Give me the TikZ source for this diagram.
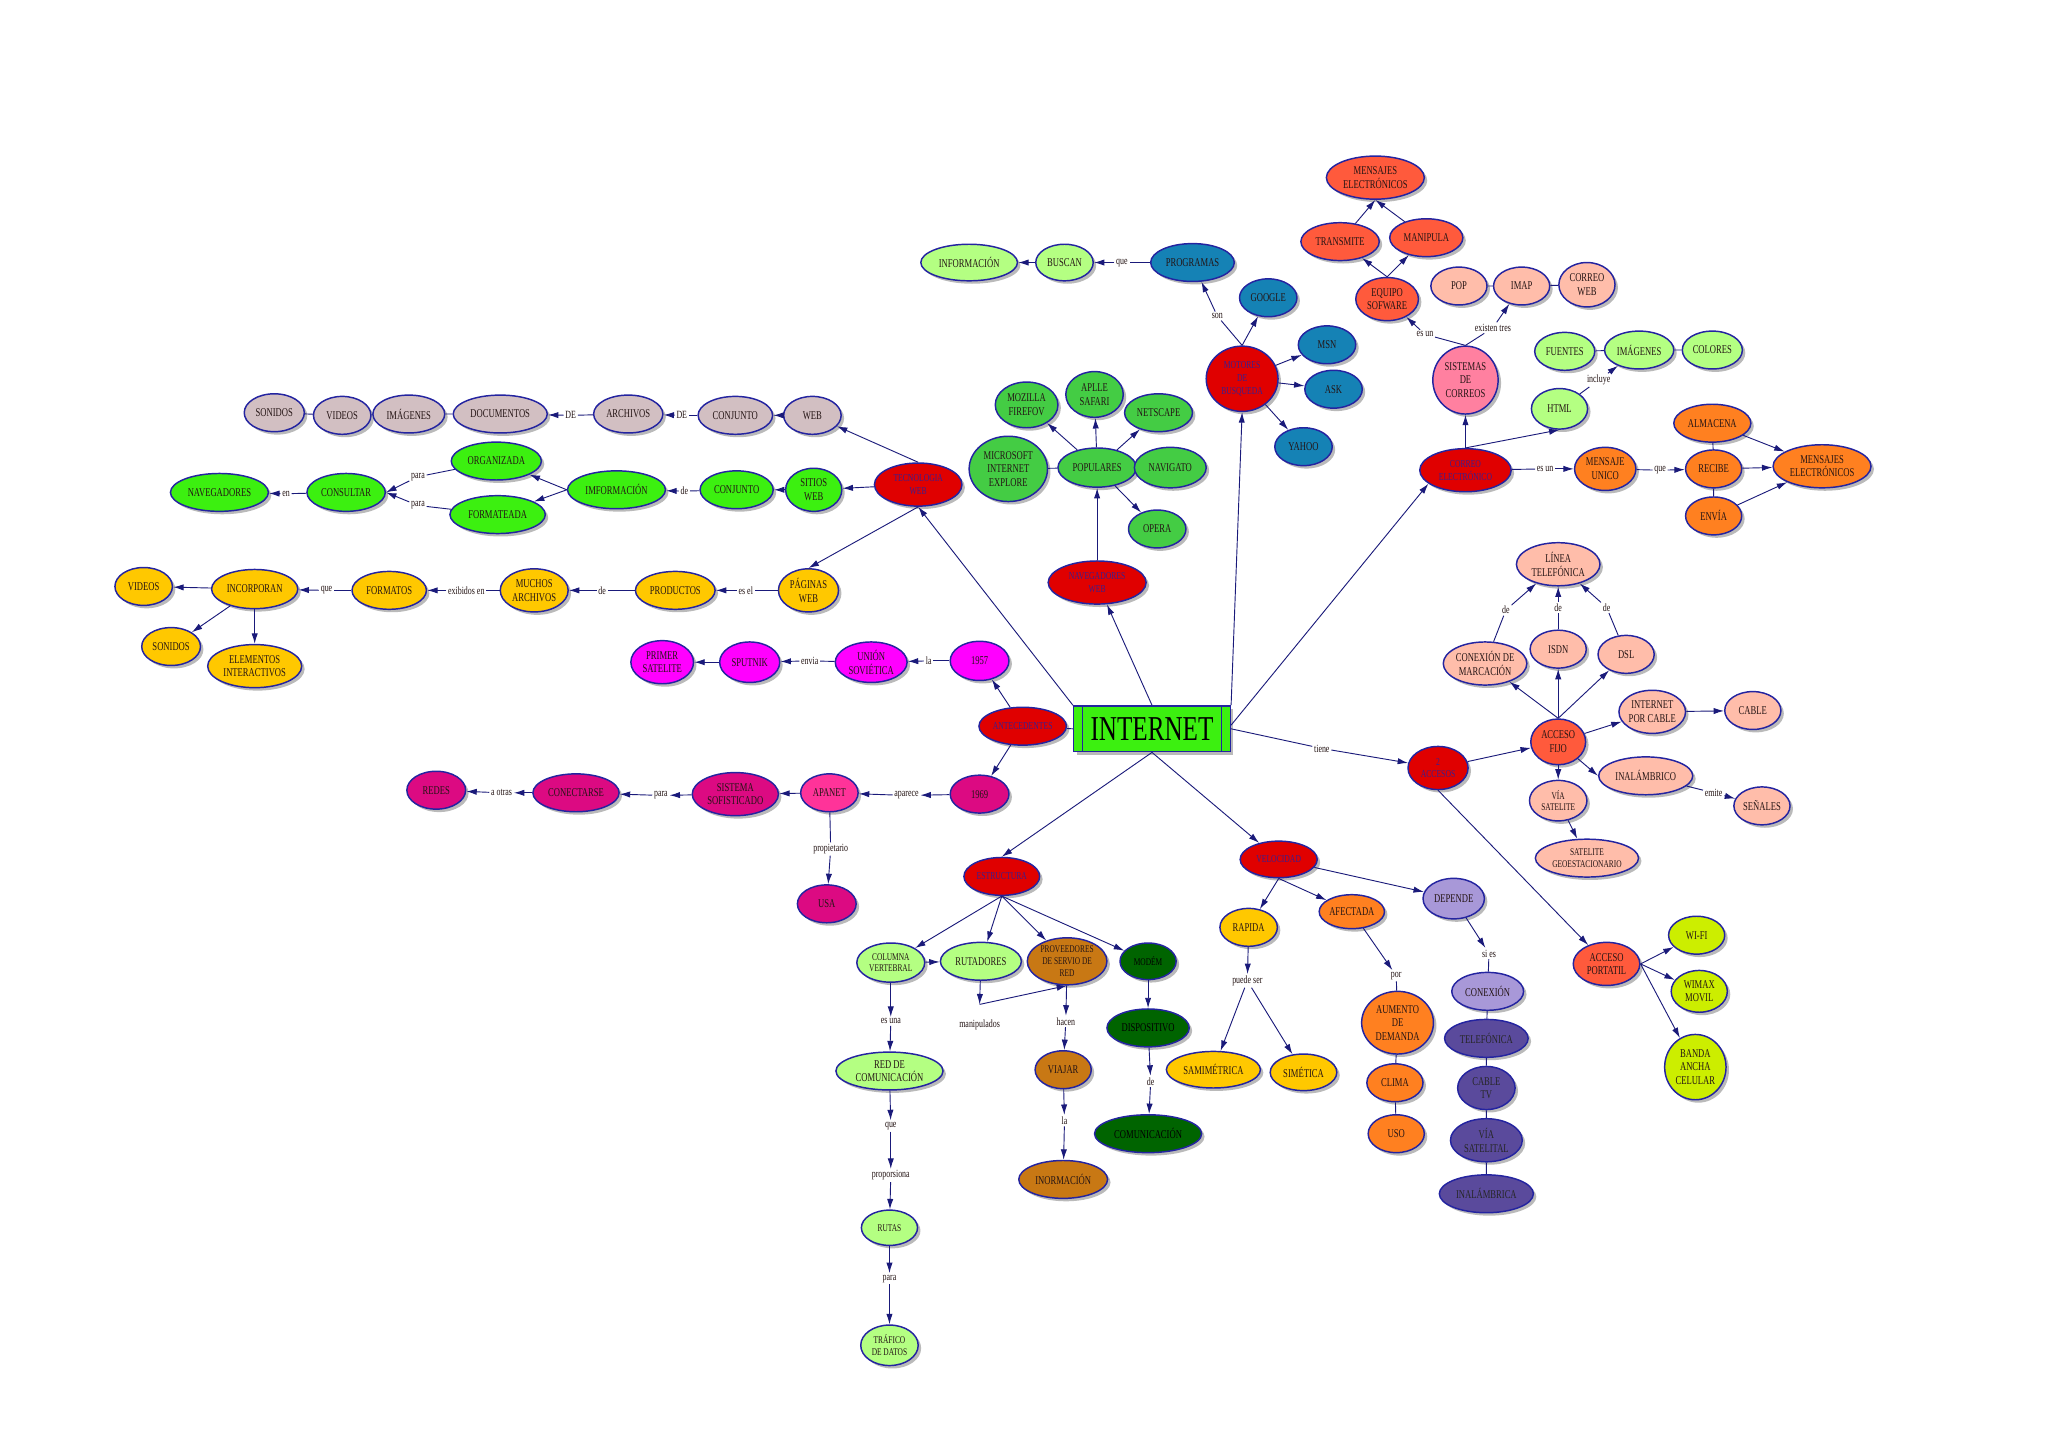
\documentclass[tikz,border=0pt]{standalone}
\usepackage{fontspec}
\setmainfont{Liberation Serif}[FakeStretch=0.72]
\usepackage{tikz}
\usepackage{xcolor}
\usetikzlibrary{arrows.meta,shapes.geometric,shadows}
\definecolor{Tinta}{HTML}{241414}
\definecolor{Marino}{HTML}{1A1A7A}
\definecolor{Borde}{HTML}{2424A0}
\definecolor{Indigo}{HTML}{3C1E8C}
\definecolor{Gris}{HTML}{D2BFC2}
\definecolor{Lima}{HTML}{3CF010}
\definecolor{Oro}{HTML}{FFC800}
\definecolor{Fucsia}{HTML}{FF00FF}
\definecolor{Frambuesa}{HTML}{DC0A82}
\definecolor{Rosa}{HTML}{FF3399}
\definecolor{Carmesi}{HTML}{E00000}
\definecolor{Hierba}{HTML}{44CC44}
\definecolor{Petroleo}{HTML}{1582B5}
\definecolor{Menta}{HTML}{B4FF82}
\definecolor{Tomate}{HTML}{FF5A3C}
\definecolor{Salmon}{HTML}{FFBDAA}
\definecolor{Chicle}{HTML}{FF80A0}
\definecolor{Naranja}{HTML}{FF8020}
\definecolor{Cafe}{HTML}{C87814}
\definecolor{Bosque}{HTML}{006400}
\definecolor{Lavanda}{HTML}{A898D8}
\definecolor{Pizarra}{HTML}{5A4A9C}
\definecolor{Pistacho}{HTML}{CCEE00}
\newcommand{\concepto}[7]{
  \node[concepto, #6, minimum width=#4*0.025cm, minimum height=#5*0.025cm] (#1) at (#2,#3) {#7};
}
\newcommand{\palabra}[4]{
  \node[rotulo] (#1) at (#2,#3) {#4};
}

\begin{document}
\begin{tikzpicture}[x=0.025cm, y=-0.025cm,
    concepto/.style={ellipse, draw=Borde, line width=0.8pt, inner sep=0pt, align=center,
      text=Tinta, font=\fontsize{6.5}{7.4}\selectfont,
      drop shadow={shadow xshift=1.6pt, shadow yshift=-1.6pt, fill=black!45, opacity=0.6}},
    rotulo/.style={fill=white, inner sep=0.8pt, text=Tinta, font=\fontsize{6}{7}\selectfont},
    link/.style={draw=Marino, line width=0.5pt},
    arr/.style={link, -{Latex[length=2mm, width=1.2mm]}},
    chico/.style={font=\fontsize{5.6}{6.4}\selectfont},
    principal/.style={fill=Carmesi, text=Indigo, font=\fontsize{5.8}{7}\selectfont},
    gris/.style={fill=Gris}, lima/.style={fill=Lima}, oro/.style={fill=Oro},
    fucsia/.style={fill=Fucsia}, frambuesa/.style={fill=Frambuesa}, rosa/.style={fill=Rosa},
    hierba/.style={fill=Hierba}, petroleo/.style={fill=Petroleo}, menta/.style={fill=Menta},
    tomate/.style={fill=Tomate}, salmon/.style={fill=Salmon}, chicle/.style={fill=Chicle},
    naranja/.style={fill=Naranja}, cafe/.style={fill=Cafe}, bosque/.style={fill=Bosque, text=black},
    lavanda/.style={fill=Lavanda}, pizarra/.style={fill=Pizarra, text=black!85},
    pistacho/.style={fill=Pistacho}]
  \useasboundingbox (0,0) rectangle (1568,1109);

  % centro
  \node[rectangle, draw=Borde, line width=0.8pt, fill=Lima, minimum width=120*0.025cm,
    minimum height=35*0.025cm, inner sep=0pt, font=\fontsize{19}{20}\selectfont,
    drop shadow={shadow xshift=1.6pt, shadow yshift=-1.6pt, fill=black!45, opacity=0.6}]
    (internet) at (882,558) {INTERNET};
  \draw[Borde, line width=0.6pt] ([xshift=0.18cm]internet.north west) -- ([xshift=0.18cm]internet.south west);
  \draw[Borde, line width=0.6pt] ([xshift=-0.18cm]internet.north east) -- ([xshift=-0.18cm]internet.south east);

  % tecnologia web
  \concepto{tecweb}{703}{371}{67}{33}{principal}{TECNOLOGIA\\WEB}
  \concepto{gsonidos}{210}{316}{46}{29}{gris}{SONIDOS}
  \concepto{gvideos}{262}{318}{44}{29}{gris}{VIDEOS}
  \concepto{gimagenes}{313}{317}{55}{29}{gris}{IMÁGENES}
  \concepto{gdocs}{383}{317}{72}{29}{gris}{DOCUMENTOS}
  \palabra{lde1}{437}{318}{DE}
  \concepto{garchivos}{481}{317}{53}{29}{gris}{ARCHIVOS}
  \palabra{lde2}{522}{318}{DE}
  \concepto{gconjunto}{563}{318}{57}{29}{gris}{CONJUNTO}
  \concepto{gweb}{622}{318}{44}{29}{gris}{WEB}
  \concepto{organizada}{380}{353}{69}{29}{lima}{ORGANIZADA}
  \concepto{formateada}{381}{394}{73}{29}{lima}{FORMATEADA}
  \concepto{navegadores}{168}{377}{75}{29}{lima}{NAVEGADORES}
  \palabra{len}{219}{378}{en}
  \concepto{consultar}{265}{377}{60}{29}{lima}{CONSULTAR}
  \palabra{lpara1}{320}{365}{para}
  \palabra{lpara2}{320}{387}{para}
  \concepto{imformacion}{472}{375}{75}{29}{lima}{IMFORMACIÓN}
  \palabra{lde3}{524}{376}{de}
  \concepto{gconj2}{564}{375}{56}{29}{lima}{CONJUNTO}
  \concepto{sitios}{623}{375}{43}{33}{lima}{SITIOS\\WEB}
  \concepto{yvideos}{110}{449}{44}{29}{oro}{VIDEOS}
  \concepto{incorporan}{195}{451}{66}{30}{oro}{INCORPORAN}
  \palabra{lque1}{250}{452}{que}
  \concepto{formatos}{298}{452}{57}{29}{oro}{FORMATOS}
  \palabra{lexib}{357}{452}{exibidos en}
  \concepto{muchos}{409}{452}{52}{33}{oro}{MUCHOS\\ARCHIVOS}
  \palabra{lde4}{461}{452}{de}
  \concepto{productos}{517}{452}{61}{29}{oro}{PRODUCTOS}
  \palabra{lesel}{571}{452}{es el}
  \concepto{paginas}{619}{452}{46}{33}{oro}{PÁGINAS\\WEB}
  \concepto{ysonidos}{131}{495}{45}{29}{oro}{SONIDOS}
  \concepto{elementos}{195}{510}{72}{33}{oro}{ELEMENTOS\\INTERACTIVOS}

  % antecedentes
  \concepto{antecedentes}{783}{556}{67}{29}{principal}{ANTECEDENTES}
  \concepto{primer}{507}{507}{48}{33}{fucsia}{PRIMER\\SATELITE}
  \concepto{sputnik}{574}{507}{46}{31}{fucsia}{SPUTNIK}
  \palabra{lenvia}{620}{506}{envia}
  \concepto{union}{667}{507}{55}{31}{fucsia}{UNIÓN\\SOVIÉTICA}
  \palabra{lla1}{711}{506}{la}
  \concepto{y1957}{750}{506}{45}{30}{fucsia}{1957}
  \concepto{y1969}{750}{608}{45}{29}{frambuesa}{1969}
  \palabra{laparece}{694}{609}{aparece}
  \concepto{apanet}{635}{607}{44}{29}{rosa}{APANET}
  \concepto{sistema}{563}{608}{66}{33}{frambuesa}{SISTEMA\\SOFISTICADO}
  \palabra{lpara3}{506}{609}{para}
  \concepto{conectarse}{441}{607}{66}{29}{frambuesa}{CONECTARSE}
  \palabra{laotras}{384}{607}{a otras}
  \concepto{redes}{334}{605}{45}{29}{frambuesa}{REDES}
  \palabra{lprop}{636}{650}{propietario}
  \concepto{usa}{633}{692}{45}{29}{frambuesa}{USA}

  % navegadores y motores
  \concepto{informacion}{742}{201}{74}{28}{menta}{INFORMACIÓN}
  \concepto{buscan}{815}{201}{44}{28}{menta}{BUSCAN}
  \palabra{lque2}{859}{201}{que}
  \concepto{programas}{913}{201}{64}{29}{petroleo}{PROGRAMAS}
  \concepto{google}{971}{228}{44}{29}{petroleo}{GOOGLE}
  \palabra{lson}{932}{242}{son}
  \concepto{motores}{951}{290}{55}{50}{principal}{MOTORES\\DE\\BUSQUEDA}
  \concepto{msn}{1016}{264}{44}{29}{petroleo}{MSN}
  \concepto{ask}{1021}{298}{44}{29}{petroleo}{ASK}
  \concepto{yahoo}{998}{342}{44}{29}{petroleo}{YAHOO}
  \concepto{mozilla}{786}{310}{48}{35}{hierba}{MOZILLA\\FIREFOV}
  \concepto{apple}{838}{302}{44}{35}{hierba}{APLLE\\SAFARI}
  \concepto{netscape}{887}{316}{52}{29}{hierba}{NETSCAPE}
  \concepto{microsoft}{772}{359}{60}{50}{hierba}{MICROSOFT\\INTERNET\\EXPLORE}
  \concepto{populares}{840}{358}{60}{30}{hierba}{POPULARES}
  \concepto{navigato}{896}{358}{55}{31}{hierba}{NAVIGATO}
  \concepto{opera}{886}{405}{44}{29}{hierba}{OPERA}
  \concepto{navweb}{840}{446}{75}{33}{principal}{NAVEGADORES\\WEB}

  % correo
  \concepto{mensajes1}{1053}{136}{75}{33}{tomate}{MENSAJES\\ELECTRÓNICOS}
  \concepto{transmite}{1026}{185}{60}{29}{tomate}{TRANSMITE}
  \concepto{manipula}{1092}{182}{56}{29}{tomate}{MANIPULA}
  \concepto{equipo}{1062}{229}{48}{33}{tomate}{EQUIPO\\SOFWARE}
  \concepto{pop}{1117}{219}{43}{29}{salmon}{POP}
  \concepto{imap}{1165}{219}{43}{29}{salmon}{IMAP}
  \concepto{correoweb}{1215}{218}{43}{34}{salmon}{CORREO\\WEB}
  \palabra{lexisten}{1143}{251}{existen tres}
  \palabra{lesun1}{1091}{256}{es un}
  \concepto{sistemas}{1122}{291}{50}{52}{chicle}{SISTEMAS\\DE\\CORREOS}
  \concepto{fuentes}{1198}{269}{46}{29}{menta}{FUENTES}
  \concepto{himagenes}{1255}{268}{53}{29}{menta}{IMÁGENES}
  \concepto{colores}{1311}{268}{46}{29}{menta}{COLORES}
  \palabra{lincluye}{1224}{291}{incluye}
  \concepto{html}{1194}{313}{43}{31}{menta}{HTML}
  \concepto{correo}{1122}{360}{70}{33}{principal}{CORREO\\ELECTRÓNICO}
  \palabra{lesun2}{1183}{359}{es un}
  \concepto{mensaje}{1229}{359}{47}{33}{naranja}{MENSAJE\\UNICO}
  \palabra{lque3}{1271}{360}{que}
  \concepto{almacena}{1311}{324}{59}{29}{naranja}{ALMACENA}
  \concepto{recibe}{1312}{359}{43}{29}{naranja}{RECIBE}
  \concepto{envia}{1312}{395}{43}{29}{naranja}{ENVÍA}
  \concepto{mensajes2}{1395}{357}{75}{33}{naranja}{MENSAJES\\ELECTRÓNICOS}

  % accesos
  \palabra{ltiene}{1012}{573}{tiene}
  \concepto{accesos}{1101}{588}{46}{33}{principal}{2\\ACCESOS}
  \concepto{linea}{1193}{432}{64}{33}{salmon}{LÍNEA\\TELEFÓNICA}
  \palabra{lde5}{1153}{467}{de}
  \palabra{lde6}{1193}{465}{de}
  \palabra{lde7}{1230}{465}{de}
  \concepto{conexionm}{1137}{508}{64}{33}{salmon}{CONEXIÓN DE\\MARCACIÓN}
  \concepto{isdn}{1193}{497}{43}{29}{salmon}{ISDN}
  \concepto{dsl}{1245}{501}{43}{29}{salmon}{DSL}
  \concepto{fijo}{1193}{568}{42}{35}{tomate}{ACCESO\\FIJO}
  \concepto{cablei}{1265}{545}{51}{33}{salmon}{INTERNET\\POR CABLE}
  \concepto{cable}{1342}{544}{43}{29}{salmon}{CABLE}
  \concepto{inalambrico}{1260}{594}{72}{29}{salmon}{INALÁMBRICO}
  \palabra{lemite}{1312}{607}{emite}
  \concepto{senales}{1349}{617}{43}{29}{salmon}{SEÑALES}
  \concepto{viasat}{1193}{613}{44}{31}{salmon,chico}{VÍA\\SATELITE}
  \concepto{geo}{1215}{657}{79}{29}{salmon,chico}{SATELITE\\GEOESTACIONARIO}
  \concepto{portatil}{1230}{738}{51}{33}{tomate}{ACCESO\\PORTATIL}
  \concepto{wifi}{1299}{716}{43}{29}{pistacho}{WI-FI}
  \concepto{wimax}{1301}{759}{43}{32}{pistacho}{WIMAX\\MOVIL}
  \concepto{banda}{1298}{817}{47}{50}{pistacho}{BANDA\\ANCHA\\CELULAR}

  % estructura
  \concepto{estructura}{767}{671}{58}{29}{principal}{ESTRUCTURA}
  \concepto{columna}{682}{737}{52}{30}{menta,chico}{COLUMNA\\VERTEBRAL}
  \concepto{rutadores}{751}{736}{62}{29}{menta}{RUTADORES}
  \concepto{proveedores}{817}{736}{61}{36}{cafe,chico}{PROVEEDORES\\DE SERVIO DE\\RED}
  \concepto{modem}{879}{736}{43}{28}{bosque,chico}{MODÉM}
  \palabra{lesuna}{682}{782}{es una}
  \coordinate (mcorner) at (750,769);
  \palabra{lmanip}{750}{785}{manipulados}
  \palabra{lhacen}{816}{782}{hacen}
  \concepto{redcom}{681}{820}{82}{29}{menta}{RED DE\\COMUNICACIÓN}
  \concepto{viajar}{814}{819}{43}{29}{cafe}{VIAJAR}
  \concepto{dispositivo}{879}{787}{63}{29}{bosque}{DISPOSITIVO}
  \palabra{lde8}{881}{828}{de}
  \concepto{comunicacion}{879}{868}{82}{29}{bosque}{COMUNICACIÓN}
  \palabra{lla2}{815}{858}{la}
  \concepto{inormacion}{814}{903}{68}{29}{cafe}{INORMACIÓN}
  \palabra{lque4}{682}{862}{que}
  \palabra{lprops}{682}{900}{proporsiona}
  \concepto{rutas}{681}{940}{43}{27}{menta,chico}{RUTAS}
  \palabra{lpara4}{681}{979}{para}
  \concepto{trafico}{681}{1030}{44}{31}{menta,chico}{TRÁFICO\\DE DATOS}

  % velocidad
  \concepto{velocidad}{979}{658}{59}{28}{principal}{VELOCIDAD}
  \concepto{rapida}{956}{710}{44}{29}{oro}{RAPIDA}
  \concepto{afectada}{1035}{698}{50}{26}{naranja}{AFECTADA}
  \concepto{depende}{1113}{688}{47}{31}{lavanda}{DEPENDE}
  \palabra{lpuede}{955}{751}{puede ser}
  \concepto{samimetrica}{929}{819}{72}{28}{oro}{SAMIMÉTRICA}
  \concepto{simetica}{998}{821}{51}{28}{oro}{SIMÉTICA}
  \palabra{lpor}{1069}{747}{por}
  \concepto{aumento}{1070}{783}{55}{48}{naranja}{AUMENTO\\DE\\DEMANDA}
  \concepto{clima}{1068}{829}{43}{29}{naranja}{CLIMA}
  \concepto{uso}{1069}{868}{43}{29}{naranja}{USO}
  \palabra{lsies}{1140}{730}{si es}
  \concepto{conexion}{1139}{759}{55}{29}{lavanda}{CONEXIÓN}
  \concepto{telefonica}{1138}{795}{64}{29}{pizarra}{TELEFÓNICA}
  \concepto{cabletv}{1138}{833}{44}{33}{pizarra}{CABLE\\TV}
  \concepto{viasatelital}{1138}{873}{55}{33}{pizarra}{VÍA\\SATELITAL}
  \concepto{inalambrica}{1138}{914}{72}{29}{pizarra}{INALÁMBRICA}

  % enlaces
  \draw[arr] (internet.north west) -- (tecweb.south);
  \draw[arr] (internet.north) -- (navweb);
  \draw[arr] (internet.north east) -- (motores.south);
  \draw[arr] ([yshift=2pt]internet.east) -- (correo.200);
  \draw[link] (internet.east) -- (ltiene);
  \draw[arr] (ltiene) -- (accesos);
  \draw[arr] (internet.south) -- (velocidad);
  \draw[arr] (internet.south) -- (estructura.north);
  \draw[link] (internet.west) -- (antecedentes);

  \draw[arr] (tecweb.north) -- (gweb);
  \draw[arr] (tecweb) -- (sitios);
  \draw[arr] (tecweb.south) -- (paginas.north);
  \draw[arr] (gweb) -- (gconjunto);
  \draw[link] (gconjunto) -- (lde2);
  \draw[arr] (lde2) -- (garchivos);
  \draw[link] (garchivos) -- (lde1);
  \draw[arr] (lde1) -- (gdocs);
  \draw[link] (gdocs) -- (gimagenes) -- (gvideos) -- (gsonidos);
  \draw[arr] (sitios) -- (gconj2);
  \draw[link] (gconj2) -- (lde3);
  \draw[arr] (lde3) -- (imformacion);
  \draw[arr] (imformacion.west) -- (organizada);
  \draw[arr] (imformacion.west) -- (formateada);
  \draw[link] (organizada) -- (lpara1);
  \draw[arr] (lpara1) -- (consultar.east);
  \draw[link] (formateada) -- (lpara2);
  \draw[arr] (lpara2) -- (consultar.east);
  \draw[link] (consultar) -- (len);
  \draw[arr] (len) -- (navegadores);
  \draw[link] (paginas) -- (lesel);
  \draw[arr] (lesel) -- (productos);
  \draw[link] (productos) -- (lde4);
  \draw[arr] (lde4) -- (muchos);
  \draw[link] (muchos) -- (lexib);
  \draw[arr] (lexib) -- (formatos);
  \draw[link] (formatos) -- (lque1);
  \draw[arr] (lque1) -- (incorporan);
  \draw[arr] (incorporan) -- (yvideos);
  \draw[arr] (incorporan) -- (ysonidos);
  \draw[arr] (incorporan) -- (elementos);

  \draw[arr] (antecedentes) -- (y1957);
  \draw[link] (y1957) -- (lla1);
  \draw[arr] (lla1) -- (union);
  \draw[link] (union) -- (lenvia);
  \draw[arr] (lenvia) -- (sputnik);
  \draw[arr] (sputnik) -- (primer);
  \draw[arr] (antecedentes) -- (y1969);
  \draw[arr] (y1969) -- (laparece);
  \draw[arr] (laparece) -- (apanet);
  \draw[arr] (apanet) -- (sistema);
  \draw[arr] (sistema) -- (lpara3);
  \draw[arr] (lpara3) -- (conectarse);
  \draw[arr] (conectarse) -- (laotras);
  \draw[arr] (laotras) -- (redes);
  \draw[link] (apanet) -- (lprop);
  \draw[arr] (lprop) -- (usa);

  \draw[link] (motores.north) -- (lson);
  \draw[arr] (lson) -- (programas);
  \draw[link] (programas) -- (lque2);
  \draw[arr] (lque2) -- (buscan);
  \draw[arr] (buscan) -- (informacion);
  \draw[arr] (motores.north) -- (google);
  \draw[arr] (motores) -- (msn);
  \draw[arr] (motores) -- (ask);
  \draw[arr] (motores) -- (yahoo);
  \draw[arr] (navweb) -- (populares);
  \draw[arr] (populares) -- (mozilla);
  \draw[arr] (populares) -- (apple);
  \draw[arr] (populares) -- (netscape);
  \draw[arr] (populares) -- (opera);
  \draw[link] (populares) -- (microsoft);

  \draw[arr] (correo) -- (sistemas);
  \draw[arr] (correo.north) -- (html.south);
  \draw[link] (html) -- (lincluye);
  \draw[arr] (lincluye) -- (himagenes);
  \draw[link] (fuentes) -- (himagenes) -- (colores);
  \draw[link] (sistemas.north) -- (lesun1);
  \draw[arr] (lesun1) -- (equipo);
  \draw[link] (sistemas.north) -- (lexisten);
  \draw[arr] (lexisten) -- (imap);
  \draw[link] (pop) -- (imap) -- (correoweb);
  \draw[arr] (equipo.north) -- (transmite);
  \draw[arr] (equipo.north) -- (manipula);
  \draw[arr] (transmite) -- (mensajes1.south);
  \draw[arr] (manipula) -- (mensajes1.south);
  \draw[link] (correo) -- (lesun2);
  \draw[arr] (lesun2) -- (mensaje);
  \draw[link] (mensaje) -- (lque3);
  \draw[arr] (lque3) -- (recibe);
  \draw[link] (almacena) -- (recibe) -- (envia);
  \draw[arr] (almacena) -- (mensajes2);
  \draw[arr] (recibe) -- (mensajes2);
  \draw[arr] (envia) -- (mensajes2);

  \draw[arr] (accesos) -- (fijo);
  \draw[arr] (accesos.south) -- (portatil);
  \draw[arr] (fijo.north) -- (conexionm);
  \draw[arr] (fijo.north) -- (isdn);
  \draw[arr] (fijo.north) -- (dsl);
  \draw[link] (conexionm) -- (lde5);
  \draw[arr] (lde5) -- (linea);
  \draw[link] (isdn) -- (lde6);
  \draw[arr] (lde6) -- (linea);
  \draw[link] (dsl) -- (lde7);
  \draw[arr] (lde7) -- (linea);
  \draw[arr] (fijo) -- (cablei);
  \draw[arr] (cablei) -- (cable);
  \draw[arr] (fijo) -- (inalambrico.west);
  \draw[link] (inalambrico) -- (lemite);
  \draw[arr] (lemite) -- (senales);
  \draw[arr] (fijo) -- (viasat);
  \draw[arr] (viasat) -- (geo);
  \draw[arr] (portatil.east) -- (wifi);
  \draw[arr] (portatil.east) -- (wimax);
  \draw[arr] (portatil.east) -- (banda);

  \draw[arr] (estructura.south) -- (columna);
  \draw[arr] (estructura.south) -- (rutadores);
  \draw[arr] (estructura.south) -- (proveedores);
  \draw[arr] (estructura.south) -- (modem);
  \draw[arr] (columna) -- (rutadores);
  \draw[arr] (columna) -- (lesuna);
  \draw[arr] (lesuna) -- (redcom);
  \draw[arr] (redcom) -- (lque4);
  \draw[arr] (lque4) -- (lprops);
  \draw[arr] (lprops) -- (rutas);
  \draw[arr] (rutas) -- (lpara4);
  \draw[arr] (lpara4) -- (trafico);
  \draw[arr] (rutadores) -- (mcorner);
  \draw[arr] (mcorner) -- (proveedores.south);
  \draw[arr] (proveedores) -- (lhacen);
  \draw[arr] (lhacen) -- (viajar);
  \draw[arr] (viajar) -- (lla2);
  \draw[arr] (lla2) -- (inormacion);
  \draw[arr] (modem) -- (dispositivo);
  \draw[arr] (dispositivo) -- (lde8);
  \draw[arr] (lde8) -- (comunicacion);

  \draw[arr] (velocidad.south) -- (rapida);
  \draw[arr] (velocidad.south) -- (afectada);
  \draw[arr] (velocidad) -- (depende);
  \draw[arr] (rapida) -- (lpuede);
  \draw[arr] (lpuede) -- (samimetrica);
  \draw[arr] (lpuede) -- (simetica);
  \draw[arr] (afectada) -- (lpor);
  \draw[link] (lpor) -- (aumento);
  \draw[link] (aumento) -- (clima) -- (uso);
  \draw[arr] (depende) -- (lsies);
  \draw[link] (lsies) -- (conexion);
  \draw[link] (conexion) -- (telefonica) -- (cabletv) -- (viasatelital) -- (inalambrica);
\end{tikzpicture}
\end{document}
